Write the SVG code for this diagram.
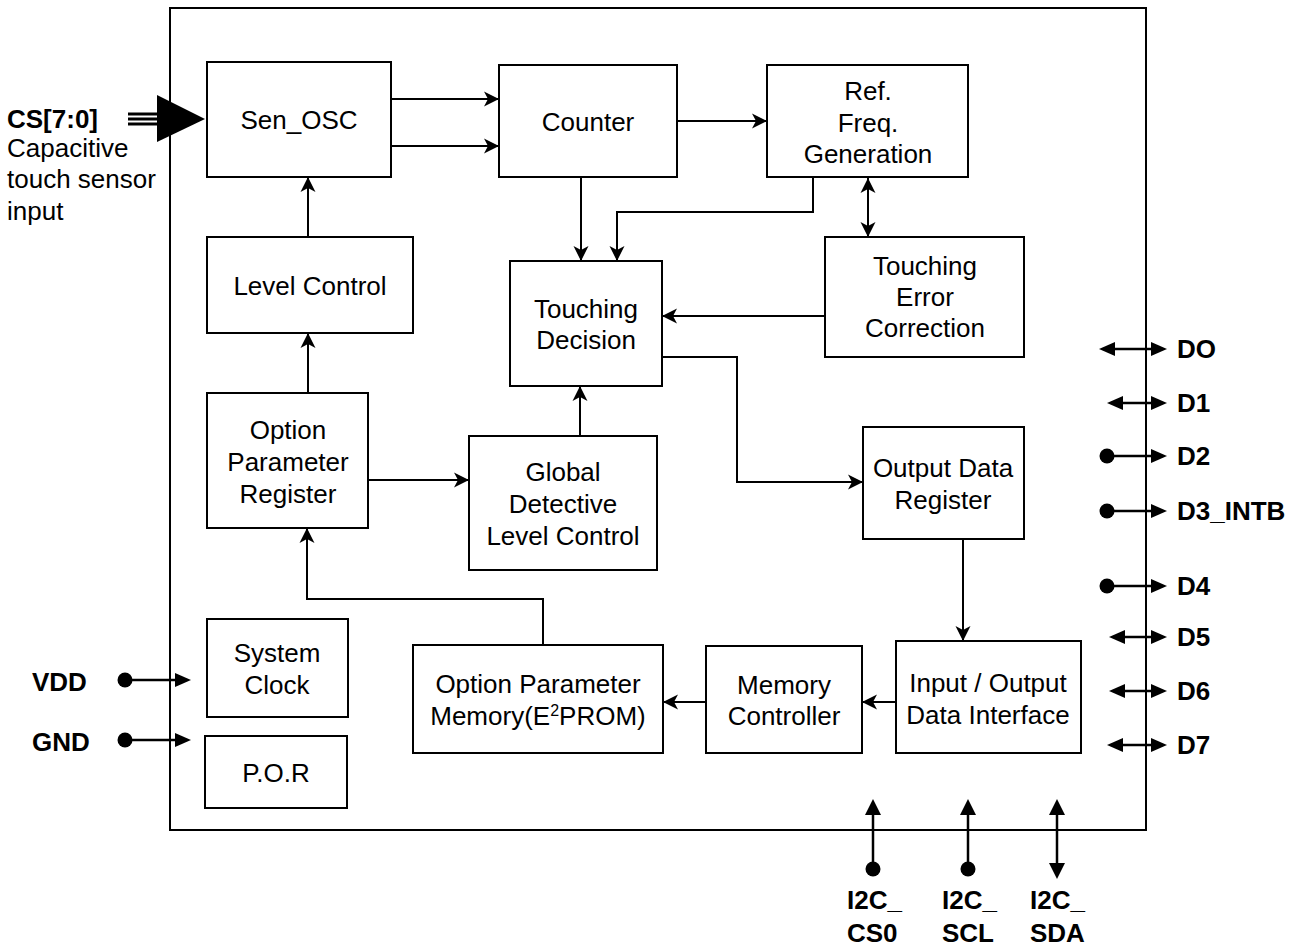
<svg xmlns="http://www.w3.org/2000/svg" width="1304" height="948" viewBox="0 0 1304 948">
<style>
.box{fill:#fff;stroke:#000;stroke-width:2}
.t{font-family:"Liberation Sans",Arial,Helvetica,sans-serif;font-size:26px;text-anchor:middle;fill:#000}
.b{font-family:"Liberation Sans",Arial,Helvetica,sans-serif;font-size:26px;font-weight:bold;fill:#000}
.l{font-family:"Liberation Sans",Arial,Helvetica,sans-serif;font-size:26px;fill:#000}
.ar{fill:none;stroke:#000;stroke-width:2;marker-end:url(#ah)}
.pin{fill:none;stroke:#000;stroke-width:2.5}
.hd{fill:#000;stroke:none}
</style>
<defs>
<marker id="ah" markerUnits="userSpaceOnUse" markerWidth="18" markerHeight="18" viewBox="0 0 18 18" refX="16" refY="9" orient="auto-start-reverse">
<path d="M1,1.5 L16,9 L1,16.5 L5,9 Z" fill="#000"/>
</marker>
</defs>
<rect width="1304" height="948" fill="#fff"/>

<g id="chip">
<rect x="170" y="8" width="976" height="822" fill="none" stroke="#000" stroke-width="2"/>
</g>

<g id="connectors">
<path class="ar" d="M391,99 H499"/>
<path class="ar" d="M391,146 H499"/>
<path class="ar" d="M677,121 H767"/>
<path class="ar" d="M581,177 V261"/>
<path class="ar" d="M813,177 V212 H617 V261"/>
<path class="ar" d="M868,178 V237" style="marker-start:url(#ah)"/>
<path class="ar" d="M825,316 H662"/>
<path class="ar" d="M662,357 H737 V482 H863"/>
<path class="ar" d="M963,539 V641"/>
<path class="ar" d="M896,702 H862"/>
<path class="ar" d="M706,702 H663"/>
<path class="ar" d="M543,645 V599 H307 V528"/>
<path class="ar" d="M368,480 H469"/>
<path class="ar" d="M580,436 V386"/>
<path class="ar" d="M308,393 V333"/>
<path class="ar" d="M308,237 V177"/>
</g>

<g id="sen_osc">
<rect class="box" x="207" y="62" width="184" height="115"/>
<text class="t" x="299" y="129">Sen_OSC</text>
</g>
<g id="counter">
<rect class="box" x="499" y="65" width="178" height="112"/>
<text class="t" x="588" y="131">Counter</text>
</g>
<g id="ref_freq">
<rect class="box" x="767" y="65" width="201" height="112"/>
<text class="t" x="868" y="100">Ref.</text>
<text class="t" x="868" y="132">Freq.</text>
<text class="t" x="868" y="163">Generation</text>
</g>
<g id="level_control">
<rect class="box" x="207" y="237" width="206" height="96"/>
<text class="t" x="310" y="295">Level Control</text>
</g>
<g id="touching_decision">
<rect class="box" x="510" y="261" width="152" height="125"/>
<text class="t" x="586" y="318">Touching</text>
<text class="t" x="586" y="349">Decision</text>
</g>
<g id="touching_error">
<rect class="box" x="825" y="237" width="199" height="120"/>
<text class="t" x="925" y="275">Touching</text>
<text class="t" x="925" y="306">Error</text>
<text class="t" x="925" y="337">Correction</text>
</g>
<g id="option_register">
<rect class="box" x="207" y="393" width="161" height="135"/>
<text class="t" x="288" y="439">Option</text>
<text class="t" x="288" y="471">Parameter</text>
<text class="t" x="288" y="503">Register</text>
</g>
<g id="global_level">
<rect class="box" x="469" y="436" width="188" height="134"/>
<text class="t" x="563" y="481">Global</text>
<text class="t" x="563" y="513">Detective</text>
<text class="t" x="563" y="545">Level Control</text>
</g>
<g id="output_register">
<rect class="box" x="863" y="427" width="161" height="112"/>
<text class="t" x="943" y="477">Output Data</text>
<text class="t" x="943" y="509">Register</text>
</g>
<g id="system_clock">
<rect class="box" x="207" y="619" width="141" height="98"/>
<text class="t" x="277" y="662">System</text>
<text class="t" x="277" y="694">Clock</text>
</g>
<g id="por">
<rect class="box" x="205" y="736" width="142" height="72"/>
<text class="t" x="276" y="782">P.O.R</text>
</g>
<g id="option_memory">
<rect class="box" x="413" y="645" width="250" height="108"/>
<text class="t" x="538" y="693">Option Parameter</text>
<text class="t" x="538" y="725">Memory(E<tspan font-size="16" dy="-9">2</tspan><tspan dy="9">PROM)</tspan></text>
</g>
<g id="memory_controller">
<rect class="box" x="706" y="646" width="156" height="107"/>
<text class="t" x="784" y="694">Memory</text>
<text class="t" x="784" y="725">Controller</text>
</g>
<g id="io_interface">
<rect class="box" x="896" y="641" width="185" height="112"/>
<text class="t" x="988" y="692">Input / Output</text>
<text class="t" x="988" y="724">Data Interface</text>
</g>

<g id="pin_cs">
<line x1="128" y1="114" x2="158" y2="114" stroke="#000" stroke-width="3"/>
<line x1="128" y1="119" x2="158" y2="119" stroke="#000" stroke-width="3"/>
<line x1="128" y1="124" x2="158" y2="124" stroke="#000" stroke-width="3"/>
<polygon class="hd" points="157,95 205,119 157,142"/>
<text class="b" x="7" y="128">CS[7:0]</text>
<text class="l" x="7" y="157">Capacitive</text>
<text class="l" x="7" y="188">touch sensor</text>
<text class="l" x="7" y="220">input</text>
</g>

<g id="pin_vdd">
<circle class="hd" cx="125" cy="680" r="7.5"/>
<line class="pin" x1="125" y1="680" x2="178" y2="680"/>
<polygon class="hd" points="175,673 191,680 175,687"/>
<text class="b" x="32" y="691">VDD</text>
</g>
<g id="pin_gnd">
<circle class="hd" cx="125" cy="740" r="7.5"/>
<line class="pin" x1="125" y1="740" x2="178" y2="740"/>
<polygon class="hd" points="175,733 191,740 175,747"/>
<text class="b" x="32" y="751">GND</text>
</g>

<g id="pin_d0">
<line class="pin" x1="1112" y1="349" x2="1154" y2="349"/>
<polygon class="hd" points="1099,349 1115,342 1115,356"/>
<polygon class="hd" points="1167,349 1151,342 1151,356"/>
<text class="b" x="1177" y="358">DO</text>
</g>
<g id="pin_d1">
<line class="pin" x1="1120" y1="403" x2="1154" y2="403"/>
<polygon class="hd" points="1107,403 1123,396 1123,410"/>
<polygon class="hd" points="1167,403 1151,396 1151,410"/>
<text class="b" x="1177" y="412">D1</text>
</g>
<g id="pin_d2">
<circle class="hd" cx="1107" cy="456" r="7.5"/>
<line class="pin" x1="1107" y1="456" x2="1154" y2="456"/>
<polygon class="hd" points="1167,456 1151,449 1151,463"/>
<text class="b" x="1177" y="465">D2</text>
</g>
<g id="pin_d3">
<circle class="hd" cx="1107" cy="511" r="7.5"/>
<line class="pin" x1="1107" y1="511" x2="1154" y2="511"/>
<polygon class="hd" points="1167,511 1151,504 1151,518"/>
<text class="b" x="1177" y="520">D3_INTB</text>
</g>
<g id="pin_d4">
<circle class="hd" cx="1107" cy="586" r="7.5"/>
<line class="pin" x1="1107" y1="586" x2="1154" y2="586"/>
<polygon class="hd" points="1167,586 1151,579 1151,593"/>
<text class="b" x="1177" y="595">D4</text>
</g>
<g id="pin_d5">
<line class="pin" x1="1122" y1="637" x2="1154" y2="637"/>
<polygon class="hd" points="1109,637 1125,630 1125,644"/>
<polygon class="hd" points="1167,637 1151,630 1151,644"/>
<text class="b" x="1177" y="646">D5</text>
</g>
<g id="pin_d6">
<line class="pin" x1="1122" y1="691" x2="1154" y2="691"/>
<polygon class="hd" points="1109,691 1125,684 1125,698"/>
<polygon class="hd" points="1167,691 1151,684 1151,698"/>
<text class="b" x="1177" y="700">D6</text>
</g>
<g id="pin_d7">
<line class="pin" x1="1120" y1="745" x2="1154" y2="745"/>
<polygon class="hd" points="1107,745 1123,738 1123,752"/>
<polygon class="hd" points="1167,745 1151,738 1151,752"/>
<text class="b" x="1177" y="754">D7</text>
</g>

<g id="pin_cs0">
<circle class="hd" cx="873" cy="869" r="7.5"/>
<line class="pin" x1="873" y1="869" x2="873" y2="812"/>
<polygon class="hd" points="873,799 865,815 881,815"/>
<text class="b" x="847" y="909">I2C_</text>
<text class="b" x="847" y="942">CS0</text>
</g>
<g id="pin_scl">
<circle class="hd" cx="968" cy="869" r="7.5"/>
<line class="pin" x1="968" y1="869" x2="968" y2="812"/>
<polygon class="hd" points="968,799 960,815 976,815"/>
<text class="b" x="942" y="909">I2C_</text>
<text class="b" x="942" y="942">SCL</text>
</g>
<g id="pin_sda">
<line class="pin" x1="1057" y1="812" x2="1057" y2="866"/>
<polygon class="hd" points="1057,799 1049,815 1065,815"/>
<polygon class="hd" points="1057,879 1049,863 1065,863"/>
<text class="b" x="1030" y="909">I2C_</text>
<text class="b" x="1030" y="942">SDA</text>
</g>
</svg>
